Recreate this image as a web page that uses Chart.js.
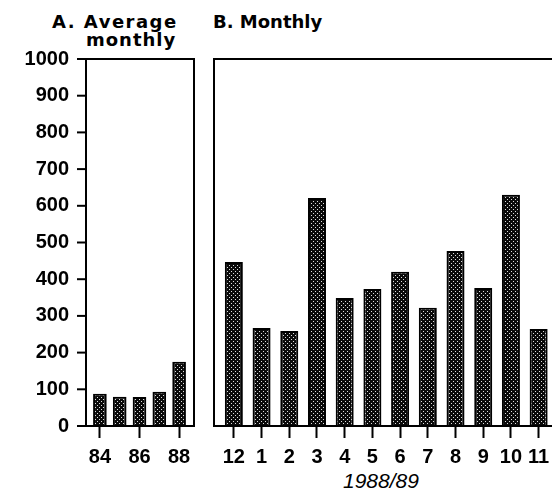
<!DOCTYPE html>
<html>
<head>
<meta charset="utf-8">
<script src="https://cdn.jsdelivr.net/npm/chart.js@4.4.1/dist/chart.umd.min.js"></script>
<style>
html, body { margin: 0; padding: 0; background: #fff; width: 552px; height: 496px; overflow: hidden; position: relative; }
.t { position: absolute; font-family: 'DejaVu Sans'; font-weight: bold; font-size: 18px; line-height: 18px; color: #000; white-space: nowrap; }
#wa { position: absolute; left: 0; top: 0; width: 200px; height: 496px; }
#wb { position: absolute; left: 200px; top: 0; width: 370px; height: 496px; }
</style>
</head>
<body>
<div class="t" style="left:52px;top:13px;letter-spacing:1.5px">A. Average</div>
<div class="t" style="left:86px;top:31px;letter-spacing:1px">monthly</div>
<div class="t" style="left:213px;top:13px">B. Monthly</div>
<div class="t" style="left:343px;top:470px;font-family:'Liberation Sans';font-weight:normal;font-style:italic;font-size:21px;line-height:21px">1988/89</div>
<div id="wa"><canvas id="chartA"></canvas></div>
<div id="wb"><canvas id="chartB"></canvas></div>
<script>
// Data
const yearLabels = ['84', '85', '86', '87', '88'];
const yearValues = [88, 80, 79, 93, 175];
const monthLabels = ['12', '1', '2', '3', '4', '5', '6', '7', '8', '9', '10', '11'];
const monthValues = [447, 267, 259, 621, 349, 373, 420, 322, 477, 376, 630, 264];
const yMin = 0;
const yMax = 1000;
const yStep = 100;

Chart.defaults.color = '#000';
Chart.defaults.font.family = "'Liberation Sans', Arial, sans-serif";

// stippled fill like the printed bars
function stipple() {
    const c = document.createElement('canvas');
    c.width = 4; c.height = 4;
    const g = c.getContext('2d');
    g.fillStyle = '#0a0a0a';
    g.fillRect(0, 0, 4, 4);
    g.fillStyle = '#ddd';
    g.fillRect(1, 1, 1, 1);
    g.fillRect(3, 3, 1, 1);
    return g.createPattern(c, 'repeat');
}
const fill = stipple();

// frame round the plot, plus outside y tick marks
const boxPlugin = {
    id: 'box',
    afterDatasetsDraw(chart, args, opts) {
        const { ctx, chartArea: a } = chart;
        const l = a.left - opts.inL;
        const r = a.right + opts.inR;
        ctx.save();
        ctx.strokeStyle = '#000';
        ctx.lineWidth = 2;
        ctx.strokeRect(l, a.top, r - l, a.bottom - a.top);
        if (opts.yTicks) {
            const y = chart.scales.y;
            y.ticks.forEach(t => {
                const py = y.getPixelForValue(t.value);
                ctx.beginPath();
                ctx.moveTo(l - 9, py);
                ctx.lineTo(l, py);
                ctx.stroke();
            });
        }
        ctx.restore();
    }
};

const tickFont = { size: 20, weight: 'bold' };

function xScale(everyOther) {
    return {
        offset: true,
        grid: {
            display: true,
            drawOnChartArea: false,
            drawTicks: true,
            offset: false,
            tickLength: 12,
            tickWidth: 2,
            tickColor: c => (everyOther && c.index % 2) ? 'rgba(0,0,0,0)' : '#000'
        },
        border: { display: false },
        ticks: {
            font: tickFont,
            padding: 7,
            autoSkip: false,
            maxRotation: 0,
            callback: function (v, i) {
                if (everyOther && i % 2) return '';
                return this.getLabelForValue(v);
            }
        },
        afterFit: s => { s.height = 70; }
    };
}

new Chart(document.getElementById('chartA'), {
    type: 'bar',
    data: {
        labels: yearLabels,
        datasets: [{
            data: yearValues,
            backgroundColor: fill,
            borderColor: '#000',
            borderWidth: 2,
            borderSkipped: 'start',
            barPercentage: 0.69,
            categoryPercentage: 1
        }]
    },
    options: {
        responsive: true,
        maintainAspectRatio: false,
        animation: false,
        layout: { padding: { top: 59, right: 11, bottom: 0, left: 0 } },
        plugins: {
            legend: { display: false },
            tooltip: { enabled: false },
            box: { inL: 4, inR: 5, yTicks: true }
        },
        scales: {
            x: xScale(true),
            y: {
                min: yMin,
                max: yMax,
                ticks: { stepSize: yStep, font: tickFont, padding: 13, callback: v => String(v) },
                grid: { display: false },
                border: { display: false },
                afterFit: s => { s.width = 90; }
            }
        }
    },
    plugins: [boxPlugin]
});

new Chart(document.getElementById('chartB'), {
    type: 'bar',
    data: {
        labels: monthLabels,
        datasets: [{
            data: monthValues,
            backgroundColor: fill,
            borderColor: '#000',
            borderWidth: 2,
            borderSkipped: 'start',
            barPercentage: 0.65,
            categoryPercentage: 1
        }]
    },
    options: {
        responsive: true,
        maintainAspectRatio: false,
        animation: false,
        layout: { padding: { top: 59, right: 17.5, bottom: 0, left: 20 } },
        plugins: {
            legend: { display: false },
            tooltip: { enabled: false },
            box: { inL: 6, inR: 30, yTicks: false }
        },
        scales: {
            x: xScale(false),
            y: {
                display: false,
                min: yMin,
                max: yMax,
                ticks: { stepSize: yStep }
            }
        }
    },
    plugins: [boxPlugin]
});
</script>
</body>
</html>
